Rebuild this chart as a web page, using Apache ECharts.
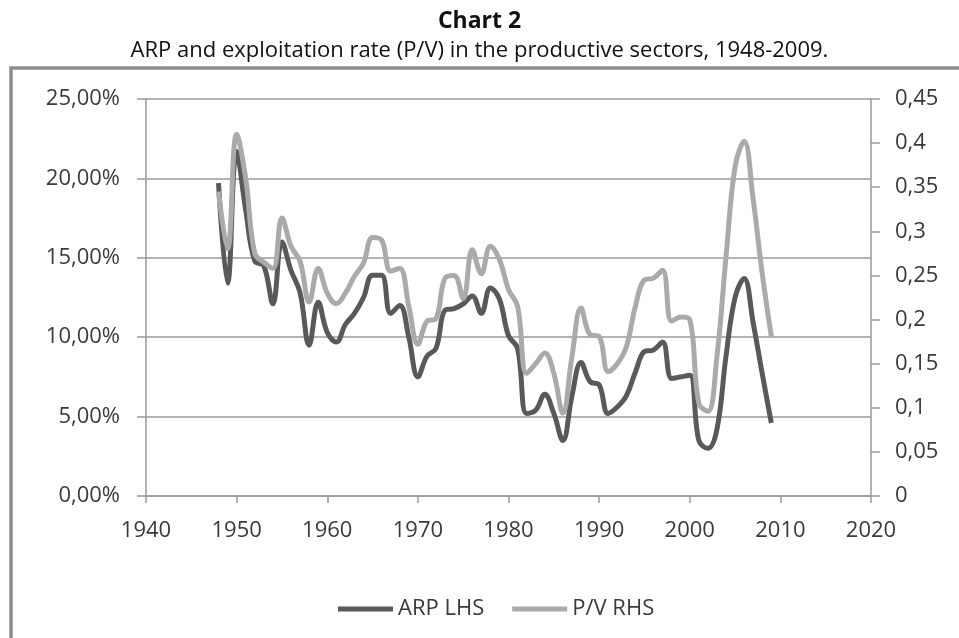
<!DOCTYPE html>
<html>
<head>
<meta charset="utf-8">
<script src="https://cdn.jsdelivr.net/npm/echarts@6/dist/echarts.min.js"></script>
<style>
html,body{margin:0;padding:0;background:#fff;}
#chart{width:959px;height:638px;}
</style>
</head>
<body>
<div id="chart"></div>
<script>
var years = [1948,1949,1950,1951,1952,1953,1954,1955,1956,1957,1958,1959,1960,1961,1962,1963,1964,1965,1966,1967,1968,1969,1970,1971,1972,1973,1974,1975,1976,1977,1978,1979,1980,1981,1982,1983,1984,1985,1986,1987,1988,1989,1990,1991,1992,1993,1994,1995,1996,1997,1998,1999,2000,2001,2002,2003,2004,2005,2006,2007,2008,2009];
var arp = [19.7,13.4,21.7,18.0,14.8,14.5,12.1,16.0,14.2,12.8,9.5,12.2,10.3,9.7,10.8,11.5,12.5,13.9,13.9,11.5,12.0,10.0,7.5,8.8,9.3,11.7,11.8,12.1,12.6,11.5,13.1,12.4,10.1,9.3,5.2,5.4,6.4,5.2,3.5,6.3,8.4,7.2,7.0,5.2,5.6,6.3,7.8,9.1,9.2,9.7,7.4,7.5,7.6,3.5,3.0,4.2,8.8,12.5,13.7,10.9,7.7,4.6];
var pv = [0.345,0.28,0.41,0.36,0.275,0.265,0.258,0.315,0.283,0.266,0.22,0.258,0.23,0.218,0.23,0.249,0.264,0.293,0.29,0.255,0.258,0.215,0.172,0.198,0.201,0.247,0.25,0.224,0.279,0.252,0.283,0.268,0.234,0.215,0.139,0.15,0.162,0.139,0.094,0.158,0.213,0.183,0.181,0.141,0.15,0.169,0.215,0.245,0.247,0.256,0.198,0.203,0.2,0.105,0.096,0.158,0.271,0.373,0.402,0.336,0.252,0.181];
var seriesNames = ['ARP LHS','P/V RHS'];
var titleText = 'Chart 2';
var subtitleText = 'ARP and exploitation rate (P/V) in the productive sectors, 1948-2009.';

var FONT = '"Open Sans", sans-serif';
var chart = echarts.init(document.getElementById('chart'));
function pairs(vals){ return years.map(function(y,i){ return [y, vals[i]]; }); }
var axisLineStyle = {color:'#9a9a9a', width:1.5};
var labelStyle = {fontFamily: FONT, fontSize: 22, color: '#3a3a3a'};
chart.setOption({
  animation:false,
  backgroundColor:'#fff',
  title:[
    {text:titleText, left:'center', top:5, textStyle:{fontFamily:FONT, fontSize:23, fontWeight:'bold', color:'#111'}},
    {text:subtitleText, left:'center', top:35, textStyle:{fontFamily:FONT, fontSize:22, fontWeight:'normal', color:'#111'}}
  ],
  graphic:[{type:'rect', shape:{x:11, y:68, width:1000, height:700}, style:{fill:null, stroke:'#8e8e8e', lineWidth:3.5}, z:-1}],
  grid:{left:146, right:88, top:99, bottom:142, containLabel:false},
  legend:{
    bottom:13, left:333, itemWidth:55, itemHeight:5, itemGap:28, icon:'rect',
    textStyle:{fontFamily:FONT, fontSize:22, color:'#3a3a3a'},
    data:seriesNames
  },
  xAxis:{
    type:'value', min:1940, max:2020, interval:10,
    axisLine:{show:true, lineStyle:axisLineStyle},
    axisTick:{show:true, length:7, lineStyle:axisLineStyle},
    splitLine:{show:false},
    axisLabel:Object.assign({margin:24, formatter:function(v){return String(v);}}, labelStyle)
  },
  yAxis:[
    {type:'value', min:0, max:25, interval:5, position:'left',
     axisLine:{show:true, lineStyle:axisLineStyle},
     axisTick:{show:true, length:9, lineStyle:axisLineStyle},
     splitLine:{show:true, lineStyle:{color:'#9a9a9a', width:1.5}},
     axisLabel:Object.assign({margin:26, formatter:function(v){return v.toFixed(2).replace('.',',')+'%';}}, labelStyle)
    },
    {type:'value', min:0, max:0.45, interval:0.05, position:'right',
     axisLine:{show:true, lineStyle:axisLineStyle},
     axisTick:{show:true, length:9, lineStyle:axisLineStyle},
     splitLine:{show:false},
     axisLabel:Object.assign({margin:24, formatter:function(v){return String(parseFloat(v.toFixed(2))).replace('.',',');}}, labelStyle)
    }
  ],
  series:[
    {name:seriesNames[0], type:'line', yAxisIndex:0, data:pairs(arp), smooth:0.4, symbol:'none',
     lineStyle:{color:'#595959', width:5}, itemStyle:{color:'#595959'}, z:2},
    {name:seriesNames[1], type:'line', yAxisIndex:1, data:pairs(pv), smooth:0.4, symbol:'none',
     lineStyle:{color:'#aaaaaa', width:5}, itemStyle:{color:'#aaaaaa'}, z:3}
  ]
});
</script>
</body>
</html>
